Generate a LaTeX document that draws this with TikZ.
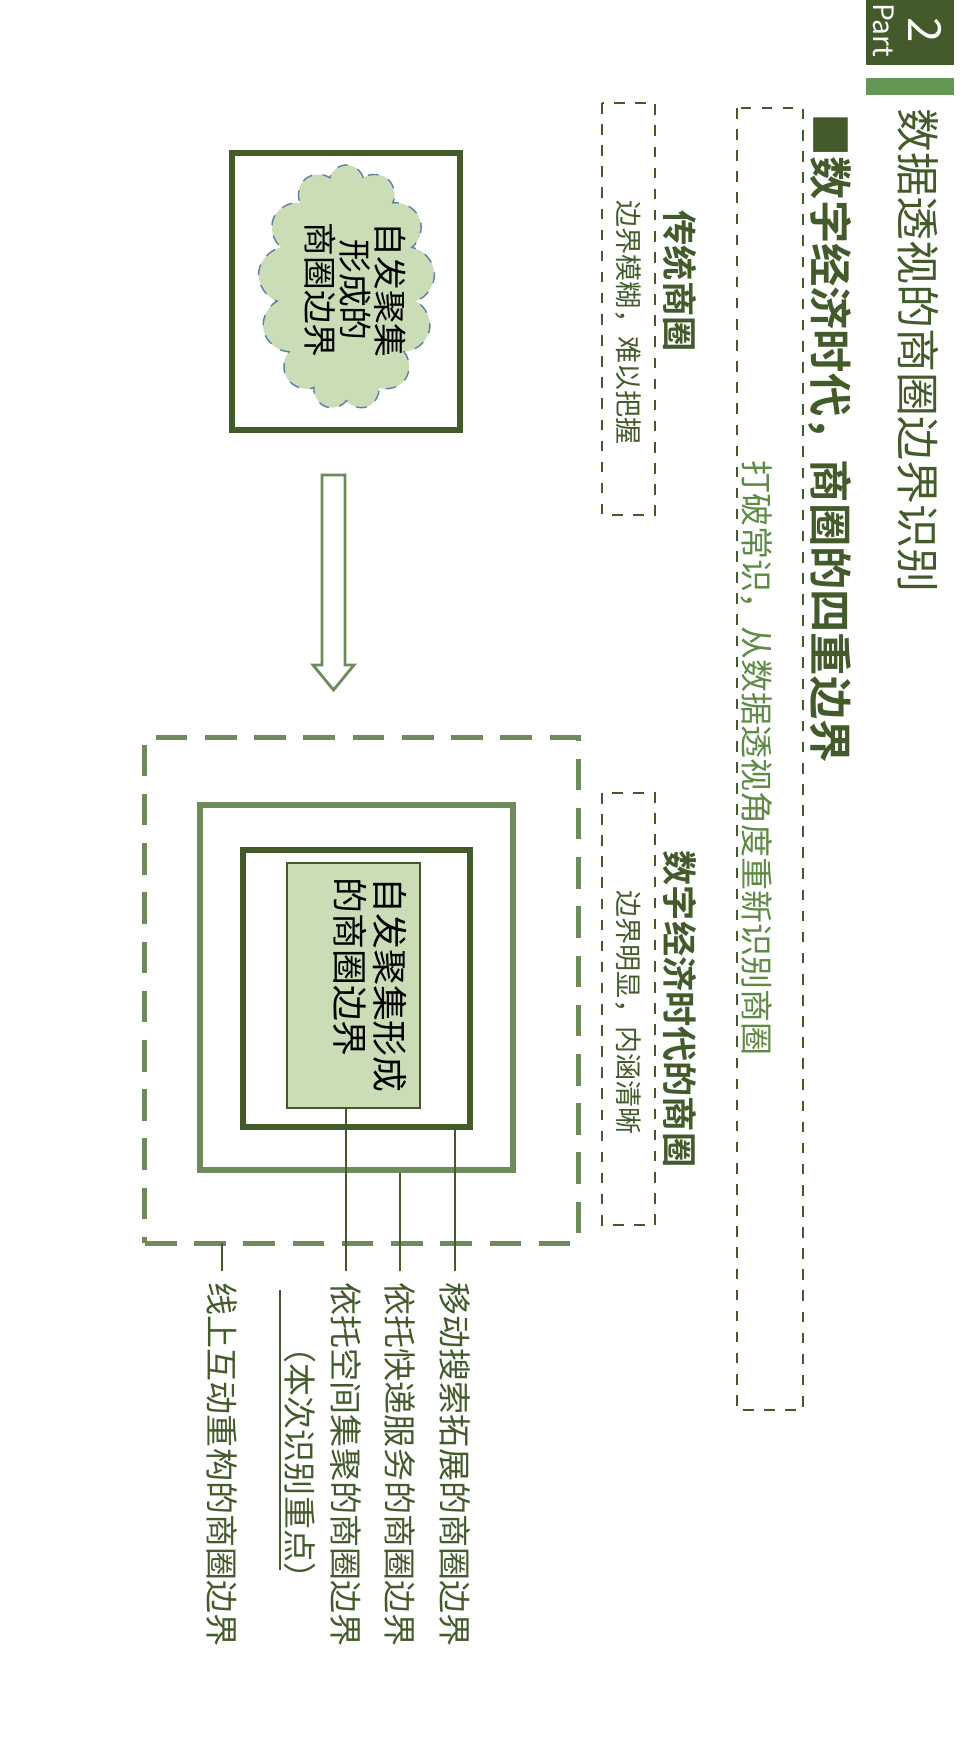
\documentclass[tikz,border=0pt]{standalone}
\usepackage{fontspec}
\setmainfont{Noto Sans CJK SC}
\newfontfamily\boldcjk{Noto Sans CJK SC Bold}
\usetikzlibrary{positioning,shapes.symbols}
\definecolor{darkgr}{HTML}{435A2B}
\definecolor{midgr}{HTML}{6F8B5C}
\definecolor{litegr}{HTML}{CADDB6}
\definecolor{textgr}{HTML}{5E8A46}
\definecolor{cloudln}{HTML}{5F7FA0}
\begin{document}
\begin{tikzpicture}[x=0.01cm, y=-0.01cm,
    vtext/.style={rotate=-90, anchor=west, inner sep=0pt},
    sidebox/.style={draw=darkgr, dashed, thick},
    lab/.style={vtext, text=darkgr, font=\fontsize{9.4pt}{11pt}\selectfont},
    lead/.style={darkgr, line width=0.8pt}]
  \useasboundingbox (0,0) rectangle (978,1738);
  % Kopf
  \fill[darkgr] (866,0) rectangle (954,65);
  \fill[midgr!90!green] (866,78) rectangle (954,95);
  \node[rotate=-90, text=white, font=\fontsize{13pt}{13pt}\selectfont] (nr) at (925,30) {2};
  \node[rotate=-90, text=white, font=\fontsize{8pt}{8pt}\selectfont] (part) at (884,30) {Part};
  \node[vtext, text=darkgr, font=\fontsize{12.5pt}{14pt}\selectfont] (titel) at (918,108) {数据透视的商圈边界识别};
  \node[vtext, text=darkgr, font=\boldcjk\fontsize{12.3pt}{14pt}\selectfont] (thema) at (830,113) {■数字经济时代，商圈的四重边界};
  % Kaesten oben
  \draw[sidebox] (737,108) rectangle (803,1410);
  \node[vtext, text=textgr, font=\fontsize{9.4pt}{11pt}\selectfont] (satz) at (757,460) {打破常识，从数据透视角度重新识别商圈};
  \node[vtext, text=darkgr, font=\boldcjk\fontsize{10pt}{12pt}\selectfont] (alt) at (680,210) {传统商圈};
  \node[vtext, text=darkgr, font=\boldcjk\fontsize{10pt}{12pt}\selectfont] (neu) at (680,850) {数字经济时代的商圈};
  \draw[sidebox] (602,103) rectangle (655,515);
  \draw[sidebox] (602,793) rectangle (655,1225);
  \node[vtext, text=darkgr, font=\fontsize{7.7pt}{9pt}\selectfont] (alttxt) at (628,200) {边界模糊，难以把握};
  \node[vtext, text=darkgr, font=\fontsize{7.7pt}{9pt}\selectfont] (neutxt) at (628,890) {边界明显，内涵清晰};
  % Wolke
  \node[draw=darkgr, line width=1.6pt, minimum width=2.28cm, minimum height=2.77cm] (wbox) at (346,291.5) {};
  \node[cloud, cloud puffs=13, aspect=0.72, draw=cloudln, dashed, fill=litegr, minimum width=1.77cm, minimum height=2.45cm] (wolke) at (346.5,287.5) {};
  \node[rotate=-90, align=center, text=black, font=\fontsize{9.6pt}{10pt}\selectfont] (wtxt) at (355,290) {自发聚集\\形成的\\商圈边界};
  % Pfeil
  \draw[midgr, line width=0.8pt] (322,475) -- (345,475) -- (345,665) -- (354,665) -- (333.5,690) -- (313,665) -- (322,665) -- cycle;
  % Quadrate
  \node[draw=midgr, line width=1.4pt, dash pattern=on 9pt off 5pt, minimum width=4.33cm, minimum height=5.05cm] (aussen) at (361.5,990.5) {};
  \node[draw=midgr, line width=1.6pt, minimum width=3.13cm, minimum height=3.65cm] (mitte) at (356.5,987.5) {};
  \node[draw=darkgr, line width=1.6pt, minimum width=2.27cm, minimum height=2.77cm] (innen) at (356.5,988.5) {};
  \node[draw=darkgr, fill=litegr, thin, minimum width=1.33cm, minimum height=2.45cm] (kern) at (353.5,985.5) {};
  \node[rotate=-90, align=left, text=black, font=\fontsize{10.2pt}{11.5pt}\selectfont] (ktxt) at (370,985) {自发聚集形成\\的商圈边界};
  % Beschriftungen
  \node[lab] (l1) at (455,1282) {移动搜索拓展的商圈边界};
  \node[lab] (l2) at (400,1282) {依托快递服务的商圈边界};
  \node[lab] (l3) at (346,1282) {依托空间集聚的商圈边界};
  \node[lab] (l4) at (300,1330) {（本次识别重点）};
  \node[lab] (l5) at (222,1282) {线上互动重构的商圈边界};
  \draw[lead] ([yshift=3pt]l1.west) -- (l1.west |- innen.south);
  \draw[lead] ([yshift=3pt]l2.west) -- (l2.west |- mitte.south);
  \draw[lead] ([yshift=3pt]l3.west) -- (l3.west |- kern.south);
  \draw[lead] ([yshift=3pt]l5.west) -- ++(0,-28);
  \draw[lead] (280,1290) -- (280,1570);
\end{tikzpicture}
\end{document}
